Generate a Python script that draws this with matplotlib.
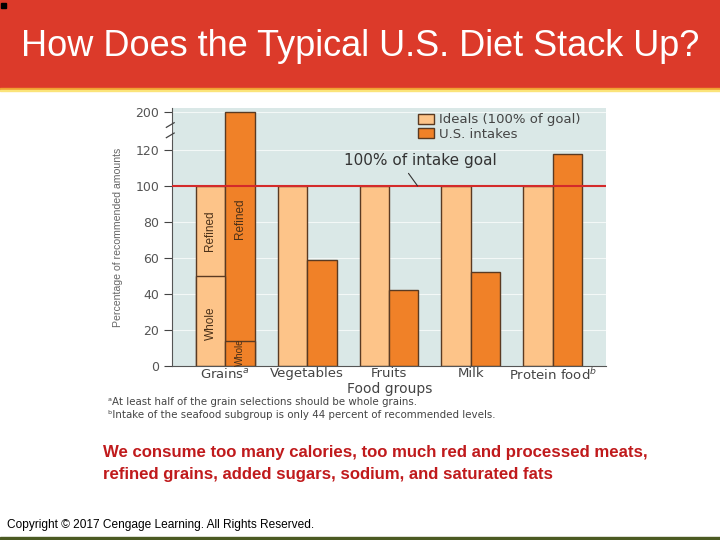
import numpy as np
import matplotlib.pyplot as plt
from matplotlib.patches import Rectangle

# ---------------- DATA ----------------
groups = ["Grains$^{a}$", "Vegetables", "Fruits", "Milk", "Protein food$^{b}$"]
ideal = [100, 100, 100, 100, 100]
intake = [200, 59, 42, 52, 118]
grain_ideal_whole = 50
grain_intake_whole = 14
yticks = [0, 20, 40, 60, 80, 100, 120, 200]

# broken axis: everything above 120 is squeezed
K = 21 / 80


def fwd(v):
    v = np.asarray(v, dtype=float)
    return np.where(v <= 120, v, 120 + (v - 120) * K)


def inv(v):
    v = np.asarray(v, dtype=float)
    return np.where(v <= 120, v, 120 + (v - 120) / K)


W, H = 720, 540
fig = plt.figure(figsize=(7.2, 5.4), dpi=100)


def fx(px):
    return px / W


def fy(py):
    return 1 - py / H


# ---------------- SLIDE FRAME ----------------
fig.patches.append(Rectangle((0, fy(88)), 1, 88 / H, transform=fig.transFigure,
                             color="#dc3a2a", zorder=0))
fig.patches.append(Rectangle((0, fy(89.5)), 1, 1.5 / H, transform=fig.transFigure,
                             color="#f0a030", zorder=0))
fig.patches.append(Rectangle((0, fy(91)), 1, 1.5 / H, transform=fig.transFigure,
                             color="#fbe47a", zorder=0))
fig.patches.append(Rectangle((0, 0), 1, 3 / H, transform=fig.transFigure,
                             color="#4b5a22", zorder=0))
fig.patches.append(Rectangle((fx(1), fy(8)), 5 / W, 5 / H, transform=fig.transFigure,
                             color="black", zorder=1))

fig.text(0.5, fy(46), "How Does the Typical U.S. Diet Stack Up?", color="white",
         fontsize=26, family="Liberation Sans", ha="center", va="center")

# ---------------- CHART ----------------
ax = fig.add_axes([fx(172), fy(366), fx(606) - fx(172), (366 - 108) / H])
ax.set_facecolor("#dae8e7")
ax.set_yscale("function", functions=(fwd, inv))
ax.set_ylim(0, 209)
ax.set_xlim(-0.65, 4.65)

x = np.arange(len(groups))
w = 0.36
c_ideal = "#fdc489"
c_intake = "#f08128"
edge = "#5a3a22"

ax.bar(x - w / 2, ideal, w, color=c_ideal, edgecolor=edge, linewidth=1, zorder=2,
       label="Ideals (100% of goal)")
ax.bar(x + w / 2, intake, w, color=c_intake, edgecolor=edge, linewidth=1, zorder=2,
       label="U.S. intakes")
ax.bar(x[0] - w / 2, grain_ideal_whole, w, color=c_ideal, edgecolor=edge, linewidth=1, zorder=2)
ax.bar(x[0] + w / 2, grain_intake_whole, w, color=c_intake, edgecolor=edge, linewidth=1, zorder=2)

lab = dict(rotation=90, ha="center", va="center", color="#4a3018", fontsize=8.5,
           family="Liberation Sans", zorder=4)
ax.text(x[0] - w / 2, 75, "Refined", **lab)
ax.text(x[0] - w / 2, 24, "Whole", **lab)
ax.text(x[0] + w / 2, 82, "Refined", **lab)
ax.text(x[0] + w / 2, 7.5, "Whole", **dict(lab, fontsize=7))

ax.axhline(100, color="#d42a2a", lw=1.5, zorder=3)
ax.annotate("100% of intake goal", xy=(2.35, 100), xytext=(2.38, 114),
            ha="center", va="center", fontsize=11, color="#333333",
            arrowprops=dict(arrowstyle="-", color="#333333", lw=0.8,
                            relpos=(0.4, 0), shrinkA=2, shrinkB=0))

ax.set_yticks(yticks)
ax.set_yticklabels([str(t) for t in yticks])
ax.set_xticks(x)
ax.set_xticklabels(groups)
ax.tick_params(axis="y", length=6, width=0.8, color="#444444", labelsize=9,
               labelcolor="#555555", pad=3)
ax.tick_params(axis="x", length=0, labelsize=9.5, labelcolor="#444444", pad=1)
ax.yaxis.grid(True, color="white", lw=0.8, alpha=0.7, zorder=1)
ax.set_axisbelow(True)
for s in ["top", "right"]:
    ax.spines[s].set_visible(False)
ax.spines["left"].set_color("#555555")
ax.spines["bottom"].set_color("#555555")

# axis break marks
ax.plot([-0.004, -0.004], [0.885, 0.936], transform=ax.transAxes, color="white",
        lw=3, clip_on=False, zorder=5)
for yb in (0.885, 0.925):
    ax.plot([-0.013, 0.005], [yb, yb + 0.018], transform=ax.transAxes, color="#444444",
            lw=0.9, clip_on=False, zorder=6)

fig.text(fx(390), fy(389), "Food groups", fontsize=10, color="#444444",
         ha="center", va="center")
fig.text(fx(118), fy(237), "Percentage of recommended amounts", rotation=90,
         ha="center", va="center", fontsize=7.6, color="#666666",
         family="Liberation Sans")

ax.legend(loc="upper left", bbox_to_anchor=(0.555, 1.0), frameon=False, fontsize=9.5,
          handlelength=1.2, handleheight=0.75, handletextpad=0.4, labelspacing=0.1,
          labelcolor="#444444", borderaxespad=0.2, borderpad=0.2)

fig.text(fx(108), fy(402), "\u1d43At least half of the grain selections should be whole grains.",
         fontsize=7.4, color="#444444", va="center")
fig.text(fx(108), fy(415), "\u1d47Intake of the seafood subgroup is only 44 percent of recommended levels.",
         fontsize=7.4, color="#444444", va="center")

# ---------------- SLIDE TEXT ----------------
fig.text(fx(103), fy(453), "We consume too many calories, too much red and processed meats,",
         fontsize=12.1, color="#c01a1c", family="Liberation Sans", weight="bold", va="center")
fig.text(fx(103), fy(475), "refined grains, added sugars, sodium, and saturated fats",
         fontsize=12.1, color="#c01a1c", family="Liberation Sans", weight="bold", va="center")
fig.text(fx(7), fy(525), "Copyright \u00a9 2017 Cengage Learning. All Rights Reserved.",
         fontsize=8.6, color="black", family="Liberation Sans", va="center")

fig.savefig("out.png", dpi=100)
